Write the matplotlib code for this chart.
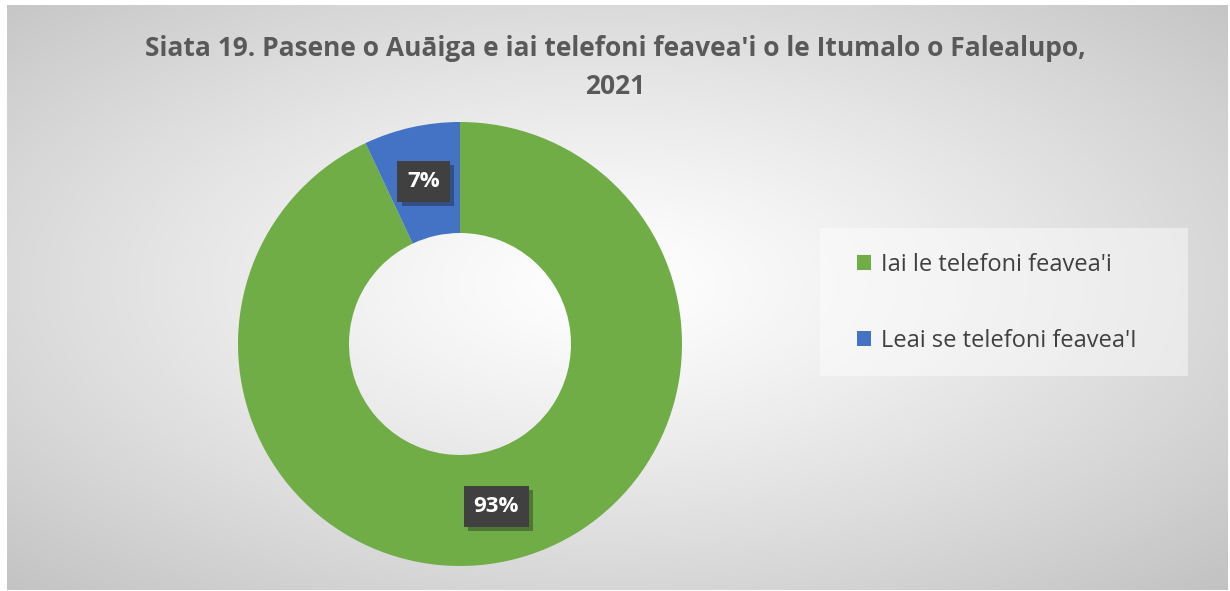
import numpy as np
import matplotlib.pyplot as plt
import matplotlib.patheffects as pe
from matplotlib.patches import Rectangle

# chart values
labels = ["Iai le telefoni feavea'i", "Leai se telefoni feavea'I"]
values = [93, 7]
colors = ['#70AD47', '#4472C4']
title_lines = ["Siata 19. Pasene o Auāiga e iai telefoni feavea'i o le Itumalo o Falealupo,", "2021"]

W, H = 1230, 591
fig = plt.figure(figsize=(W / 100, H / 100), dpi=100)
fig.patch.set_facecolor('white')

# radial gradient background
bg = fig.add_axes([7 / W, 1 / H, 1221 / W, 585 / H])
xx, yy = np.meshgrid(np.linspace(-1, 1, 400), np.linspace(-1, 1, 200))
d = np.sqrt(((xx + 0.02) ** 2 + (yy + 0.05) ** 2) / 2)
g = np.clip(1 - 0.23 * d ** 1.2, 0, 1)
bg.imshow(np.dstack([g, g, g]), aspect='auto', extent=[0, 1, 0, 1], interpolation='bilinear')
# legend panel
bg.add_patch(Rectangle(((820 - 7) / 1221, (H - 376 - 1) / 585), 368 / 1221, 148 / 585,
                       facecolor='white', alpha=0.45, edgecolor='none'))
bg.set_xlim(0, 1)
bg.set_ylim(0, 1)
bg.axis('off')

for line, ypix in zip(title_lines, [48, 86]):
    fig.text(615 / W, 1 - ypix / H, line, ha='center', va='center', fontsize=19,
             fontweight='bold', color='#595959', family='Open Sans')

# donut
cx, cy, r = 460, H - 344, 222
ax = fig.add_axes([(cx - r) / W, (cy - r) / H, 2 * r / W, 2 * r / H])
wedges, texts, autotexts = ax.pie(values, colors=colors, startangle=90, counterclock=False,
                                  radius=1, wedgeprops=dict(width=0.5, linewidth=0),
                                  autopct='%d%%', pctdistance=0.75)
for t in autotexts:
    t.set_color('white')
    t.set_fontsize(16)
    t.set_fontweight('bold')
    t.set_family('Open Sans')
    t.set_bbox(dict(boxstyle='square,pad=0.45', facecolor='#404040', edgecolor='none'))
    t.get_bbox_patch().set_path_effects([pe.withSimplePatchShadow(offset=(3, -3), alpha=0.35),
                                         pe.Normal()])
ax.set_xlim(-1, 1)
ax.set_ylim(-1, 1)
ax.set_aspect('equal')

# legend
leg = fig.legend(wedges, labels, loc='upper left', bbox_to_anchor=(857 / W, 1 - 253 / H),
                 frameon=False, handlelength=0.6, handleheight=0.6,
                 handletextpad=0.4, labelspacing=2.2, borderpad=0, borderaxespad=0,
                 prop=dict(family='Open Sans', size=17))
for t in leg.get_texts():
    t.set_color('#404040')

fig.savefig('out.png', dpi=100)
